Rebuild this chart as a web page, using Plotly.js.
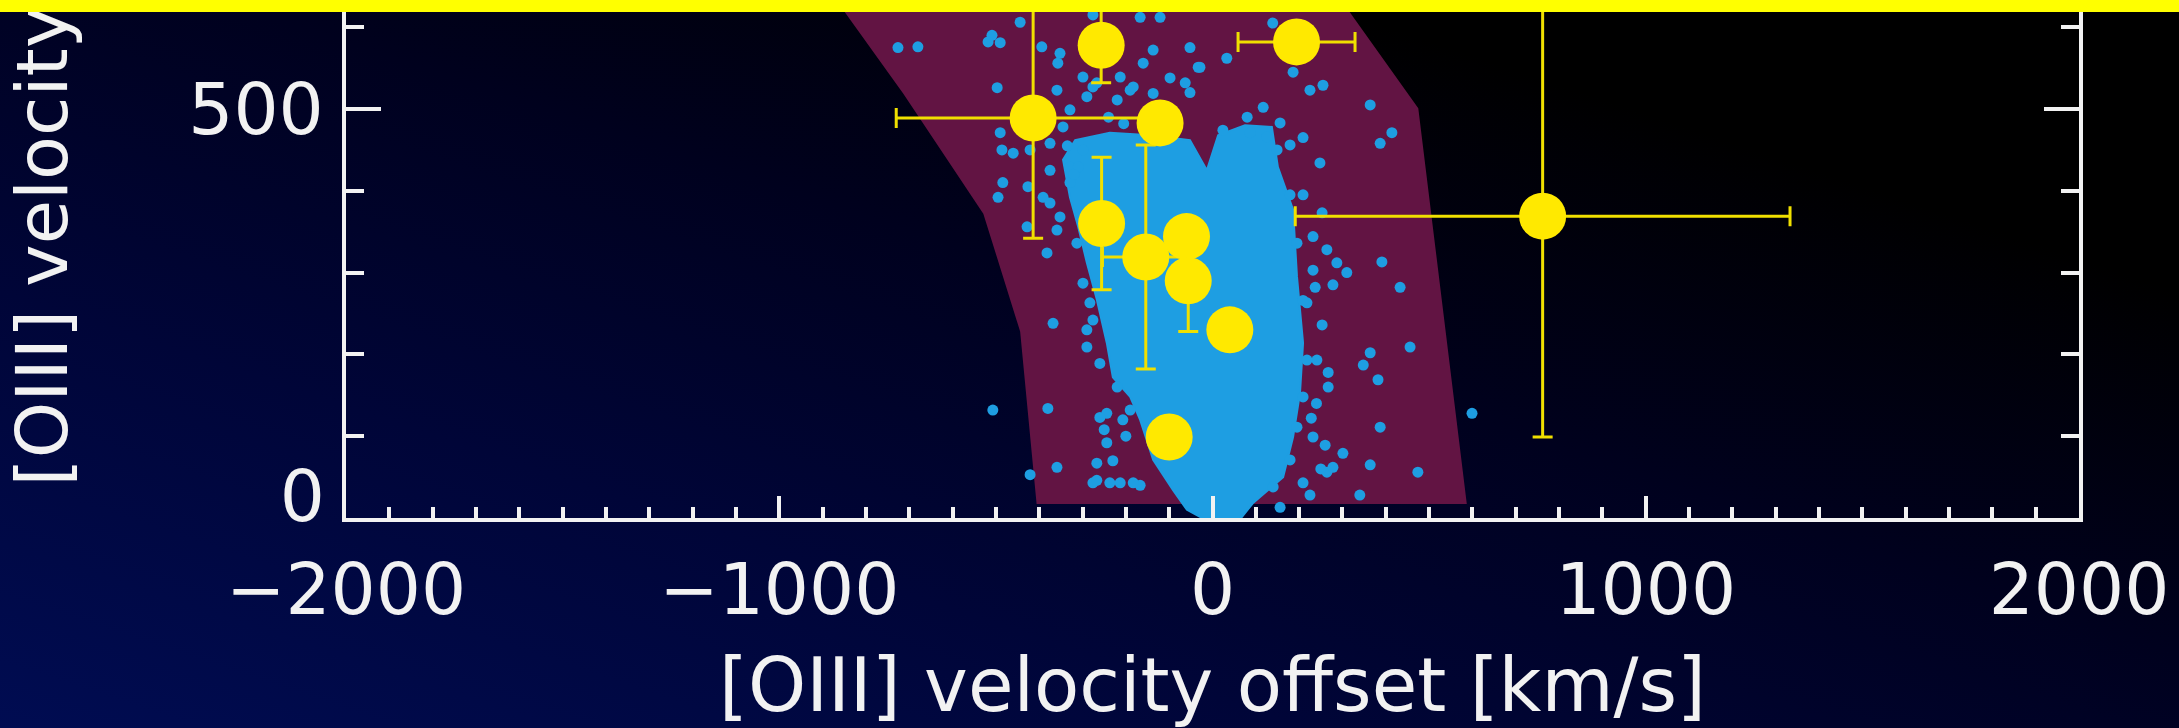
<!DOCTYPE html>
<html><head><meta charset="utf-8">
<script src="https://cdn.plot.ly/plotly-3.0.1.min.js"></script>
<style>
html,body{margin:0;padding:0;width:2179px;height:728px;overflow:hidden;}
body{position:relative;background:linear-gradient(to top right,#000c52 0%,#000538 30%,#00011e 55%,#000000 80%);}
#chart{position:absolute;left:0;top:-60px;width:2179px;height:788px;}
#topbar{position:absolute;left:0;top:0;width:2179px;height:12px;background:#ffff00;z-index:10;}
</style></head><body>
<div id="chart"></div><div id="topbar"></div>
<script>
// ---- data ----
// shaded allowed region (outline)
const bandX = [-406, -444, -529, -714, -912, 254, 475, 587];
const bandY = [17, 228, 372, 519, 665, 665, 501, 17];

// dense cloud of individual measurements (outline)
const cloudX = [-17, -59, -91, -137, -167, -190, -230, -244, -267, -290, -310, -329, -345, -317, -237, -144, -52, -13, 13, 75, 137, 151, 186, 195, 209, 202, 186, 163, 93, 63];
const cloudY = [-2, 10, 34, 71, 120, 148, 172, 214, 267, 312, 356, 392, 438, 462, 471, 468, 462, 425, 468, 480, 478, 429, 377, 295, 214, 153, 99, 50, 18, -2];

// scattered individual measurements
const dotX = [-726,-680,-509,-490,-518,-444,-497,-394,-352,-357,-359,-276,-484,-495,-490,-486,-460,-421,-375,-329,-345,-426,-391,-375,-428,-382,-368,-507,-380,-421,-359,-276,-267,-244,-237,-213,-167,-290,-290,-276,-244,-207,-299,-276,-213,-190,-160,-167,-220,-299,-329,-375,-359,-352,-137,-183,-52,-267,-290,-29,-260,-267,-183,
  139,186,225,255,364,387,414,248,156,117,80,33,-33,-52,-137,-98,-63,-121,149,179,209,179,209,253,232,264,287,310,232,237,278,391,433,218,253,456,364,348,382,241,267,267,209,387,232,260,301,264,364,474,209,340,599,156,278,
  -310,-329,-313,-299,-283,-260,-220,-190,195,209,218,195,179,140,
  24,87,126,-240,-205,-150,-110,228,240,250,225,-250,-230,-200,-320,-335];
const dotY = [575,576,590,581,582,606,526,576,568,556,523,615,410,392,471,450,446,450,458,499,478,405,392,385,356,324,238,132,134,53,62,43,67,92,43,43,40,209,230,242,128,120,539,527,539,523,556,612,511,450,429,425,352,368,519,527,520,532,515,551,123,46,43,
  605,545,523,529,505,458,471,434,483,502,490,562,551,575,572,538,532,612,450,456,465,395,395,373,344,328,312,300,303,282,285,313,282,263,236,209,202,187,169,193,178,160,148,111,99,89,79,56,65,56,43,28,128,13,62,
  429,410,336,287,263,189,160,132,336,266,193,111,71,38,
  474,471,466,490,482,486,478,122,140,60,28,108,70,100,420,455];

// stacked / binned values with errors
const offsetX = [-257, 194, -414, -121, -256, -154, -60, -56, 40, -100, 762];
const velY    = [578, 582, 489, 483, 360, 319, 344, 290, 230, 99, 369];
const errX    = [0, 135, 316, 0, 0, 100, 0, 0, 0, 0, 571];
const errY    = [46, 0, 147, 0, 81, 137, 0, 62, 0, 0, 270];

// axes
const xTickVals = [-2000, -1000, 0, 1000, 2000];
const xTickText = ['\u22122000', '\u22121000', '0', '1000', '2000'];
const yTickVals = [0, 500];
const yTickText = ['0', '500'];
const xRange = [-2000, 2000];
const yRange = [0, 665];

// ---- drawing ----
const WHITE = '#f2f2f2';
const BLUE = '#1e9ee2';
const YEL = '#ffe900';
const TICKFONT = {family:'DejaVu Sans', size:71, color:WHITE};

const traces = [
  {type:'scatter', mode:'lines', x:bandX, y:bandY, fill:'toself', fillcolor:'#621443',
   line:{width:0, color:'#621443'}, hoverinfo:'skip', showlegend:false},
  {type:'scatter', mode:'lines', x:cloudX, y:cloudY, fill:'toself', fillcolor:BLUE,
   line:{width:2, color:BLUE}, hoverinfo:'skip', showlegend:false},
  {type:'scatter', mode:'markers', x:dotX, y:dotY, marker:{size:11, color:BLUE},
   hoverinfo:'skip', showlegend:false},
  {type:'scatter', mode:'markers', x:offsetX, y:velY,
   marker:{size:47, color:YEL},
   error_x:{type:'data', array:errX, visible:true, color:'#f0e000', thickness:3, width:10},
   error_y:{type:'data', array:errY, visible:true, color:'#f0e000', thickness:3, width:10},
   hoverinfo:'skip', showlegend:false},
  // empty trace so the label-only axis for the lowest y label is drawn
  {type:'scatter', mode:'markers', x:[], y:[], yaxis:'y2', hoverinfo:'skip', showlegend:false}
];

const axisCommon = {
  showgrid:false, zeroline:false, showline:true, linecolor:WHITE, linewidth:4,
  mirror:'ticks', ticks:'inside', tickcolor:WHITE, tickwidth:4,
  tickfont:TICKFONT, fixedrange:true
};

const layout = {
  width:2179, height:788,
  margin:{l:346, r:100, t:34, b:210},
  paper_bgcolor:'rgba(0,0,0,0)', plot_bgcolor:'rgba(0,0,0,0)',
  showlegend:false,
  xaxis:Object.assign({}, axisCommon, {
    range:xRange, tickmode:'array', tickvals:xTickVals, ticktext:xTickText,
    ticklen:22, ticklabelstandoff:7,
    minor:{tickmode:'linear', tick0:0, dtick:100, ticks:'inside', ticklen:11, tickwidth:4, tickcolor:WHITE},
    title:{text:'[OIII] velocity offset [km/s]', standoff:36,
           font:{family:'DejaVu Sans', size:74, color:WHITE}}
  }),
  yaxis:Object.assign({}, axisCommon, {
    range:yRange, tickmode:'array', tickvals:yTickVals.slice(1), ticktext:yTickText.slice(1),
    ticklen:35, ticklabelstandoff:4,
    minor:{tickmode:'linear', tick0:0, dtick:100, ticks:'inside', ticklen:18, tickwidth:4, tickcolor:WHITE},
    title:{text:'[OIII] velocity', standoff:100,
           font:{family:'DejaVu Sans', size:72, color:WHITE}}
  }),
  // the lowest y label sits raised above the corner, as in the reference
  yaxis2:{overlaying:'y', anchor:'x', side:'left', range:yRange, fixedrange:true,
    tickmode:'array', tickvals:yTickVals.slice(0,1), ticktext:yTickText.slice(0,1),
    ticks:'', showline:false, showgrid:false, zeroline:false,
    tickfont:TICKFONT, ticklabelstandoff:20, ticklabelshift:-22}
};

Plotly.newPlot('chart', traces, layout, {displayModeBar:false, staticPlot:true});
</script></body></html>
